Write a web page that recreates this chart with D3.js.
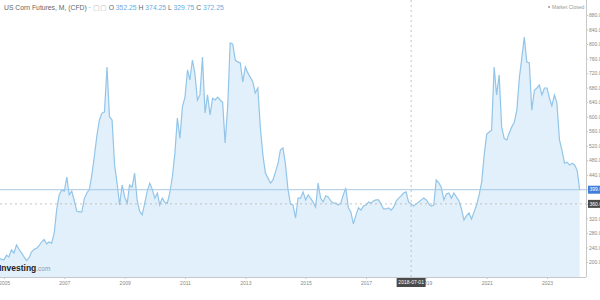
<!DOCTYPE html>
<meta charset="utf-8">
<script src="https://d3js.org/d3.v7.min.js"></script>
<style>
  body { margin: 0; background: #fff; }
  text { font-family: "Liberation Sans", Arial, sans-serif; }
</style>
<div id="chart"></div>
<script>

// monthly closes, first value is Oct 2004
var startMonth = new Date(2004, 9, 1);
var closes = [
  210, 212, 207,                                          // 2004
  206, 219, 214, 233, 225, 247, 235, 225, 214, 204, 212, 228, // 2005
  235, 238, 245, 255, 262, 250, 255, 252, 280, 345, 385, 398, // 2006
  395, 434, 385, 395, 370, 340, 338, 338, 375, 390, 400, 440, // 2007
  494, 550, 591, 610, 613, 737, 600, 591, 467, 417, 357, 412, // 2008
  379, 362, 412, 406, 445, 371, 340, 330, 362, 395, 417, 400, // 2009
  376, 390, 357, 376, 365, 362, 390, 434, 500, 596, 541, 627, // 2010
  654, 729, 701, 756, 720, 646, 660, 764, 610, 660, 605, 651, // 2011
  646, 654, 646, 640, 528, 627, 803, 800, 756, 751, 748, 696, // 2012
  737, 720, 709, 696, 665, 679, 572, 495, 445, 431, 417, 426, // 2013
  448, 472, 508, 514, 470, 400, 360, 357, 321, 376, 376, 393, // 2014
  371, 385, 376, 365, 351, 417, 376, 365, 382, 379, 368, 362, // 2015
  362, 357, 362, 385, 404, 349, 338, 305, 329, 349, 343, 354, // 2016
  357, 365, 362, 368, 371, 371, 360, 346, 346, 349, 343, 351, // 2017
  368, 376, 382, 390, 393, 365, 360, 354, 360, 365, 371, 376, // 2018
  371, 360, 354, 357, 426, 418, 406, 371, 387, 390, 376, 390, // 2019
  379, 368, 346, 316, 327, 335, 318, 338, 357, 384, 420, 494, // 2020
  552, 558, 563, 737, 660, 715, 572, 540, 536, 555, 572, 585, // 2021
  618, 709, 760, 819, 751, 748, 618, 673, 679, 687, 660, 679, // 2022
  679, 650, 630, 660, 638, 536, 508, 472, 475, 467, 472, 467, // 2023
  453, 398                                                // 2024
];

var yTicks = [200, 240, 280, 320, 360, 400, 440, 480, 520, 560, 600, 640, 680, 720, 760, 800, 840, 880];
var xTickYears = [2005, 2007, 2009, 2011, 2013, 2015, 2017, 2019, 2021, 2023];

var title = "US Corn Futures, M, (CFD)";
var ohlcNames = ["O", "H", "L", "C"];
var ohlcValues = ["352.25", "374.25", "329.75", "372.25"];

var lastPrice = 399.0;
var crossDate = new Date(2018, 6, 1);
var crossValue = 360.0;

var data = closes.map(function(v, i) {
  return { date: d3.timeMonth.offset(startMonth, i), value: v };
});

var width = 600, height = 300,
    plotRight = 586, plotBottom = 277;

var svg = d3.select("#chart")
  .append("svg")
    .attr("width", width)
    .attr("height", height);

var x = d3.scaleTime()
  .domain([new Date(2005, 0, 1), new Date(2023, 0, 1)])
  .range([4, 547]);

var y = d3.scaleLinear()
  .domain([200, 880])
  .range([262, 15]);

svg.append("clipPath").attr("id", "plotclip")
  .append("rect").attr("x", 0).attr("y", 0).attr("width", plotRight).attr("height", plotBottom);

var plot = svg.append("g").attr("clip-path", "url(#plotclip)");

// area + line
plot.append("path")
  .datum(data)
  .attr("fill", "#e1f0fa")
  .attr("d", d3.area()
    .x(function(d) { return x(d.date); })
    .y0(plotBottom)
    .y1(function(d) { return y(d.value); }));

plot.append("path")
  .datum(data)
  .attr("fill", "none")
  .attr("stroke", "#93c5e8")
  .attr("stroke-width", 1.2)
  .attr("d", d3.line()
    .x(function(d) { return x(d.date); })
    .y(function(d) { return y(d.value); }));

// last price line
plot.append("line")
  .attr("x1", 0).attr("x2", plotRight)
  .attr("y1", y(lastPrice)).attr("y2", y(lastPrice))
  .attr("stroke", "#a8c8e6").attr("stroke-width", 1);

// crosshair
plot.append("line")
  .attr("x1", 0).attr("x2", plotRight)
  .attr("y1", y(crossValue)).attr("y2", y(crossValue))
  .attr("stroke", "#b5b5b5").attr("stroke-width", 0.8)
  .attr("stroke-dasharray", "2,3");
plot.append("line")
  .attr("x1", x(crossDate)).attr("x2", x(crossDate))
  .attr("y1", 0).attr("y2", plotBottom)
  .attr("stroke", "#b5b5b5").attr("stroke-width", 0.8)
  .attr("stroke-dasharray", "2,3");

// x axis
var xAxis = svg.append("g")
  .attr("transform", "translate(0," + plotBottom + ")")
  .call(d3.axisBottom(x)
    .tickValues(xTickYears.map(function(yr) { return new Date(yr, 0, 1); }))
    .tickFormat(d3.timeFormat("%Y"))
    .tickSize(2)
    .tickPadding(2));
xAxis.select(".domain").attr("stroke", "#c8c8c8").attr("d", "M0,0.5H" + plotRight);
xAxis.selectAll(".tick line").attr("stroke", "#c8c8c8");
xAxis.selectAll("text").attr("fill", "#888").style("font-size", "5px");

// y axis on the right
var yAxis = svg.append("g")
  .attr("transform", "translate(" + plotRight + ",0)")
  .call(d3.axisRight(y)
    .tickValues(yTicks)
    .tickFormat(d3.format(".1f"))
    .tickSize(2)
    .tickPadding(1));
yAxis.select(".domain").attr("stroke", "#c8c8c8").attr("d", "M0.5,0V" + plotBottom);
yAxis.selectAll(".tick line").attr("stroke", "#c8c8c8");
yAxis.selectAll("text").attr("fill", "#888").style("font-size", "5px");

// price labels on the axis
function axisTag(val, fill) {
  var g = svg.append("g").attr("transform", "translate(" + (plotRight + 2) + "," + y(val) + ")");
  g.append("rect").attr("x", 0).attr("y", -4).attr("width", 16).attr("height", 8).attr("fill", fill);
  g.append("text").attr("x", 1.5).attr("y", 0).attr("dy", "0.35em")
    .attr("fill", "#fff").style("font-size", "5px").text(d3.format(".1f")(val));
}
axisTag(lastPrice, "#3f7fdc");
axisTag(crossValue, "#4a4a4a");

// date label under crosshair
var dl = svg.append("g").attr("transform", "translate(" + x(crossDate) + "," + (plotBottom + 1) + ")");
dl.append("rect").attr("x", -14.5).attr("y", 0).attr("width", 29).attr("height", 9).attr("fill", "#4a4a4a");
dl.append("text").attr("text-anchor", "middle").attr("y", 4.5).attr("dy", "0.35em")
  .attr("fill", "#fff").style("font-size", "5px").text(d3.timeFormat("%Y-%m-%d")(crossDate));

// header
var hdr = svg.append("text").attr("x", 4).attr("y", 10).style("font-size", "6.8px");
hdr.append("tspan").attr("fill", "#666").text(title + " · ");
hdr.append("tspan").attr("fill", "#bbb").text("▢▢ ");
ohlcNames.forEach(function(n, i) {
  hdr.append("tspan").attr("fill", "#666").text(n + " ");
  hdr.append("tspan").attr("fill", "#6aaae4").text(ohlcValues[i] + "  ");
});

// market status
svg.append("circle").attr("cx", 549).attr("cy", 7).attr("r", 1).attr("fill", "#999");
svg.append("text").attr("x", 552).attr("y", 7).attr("dy", "0.35em")
  .attr("fill", "#999").style("font-size", "5px").text("Market Closed");

// watermark
var wm = svg.append("text").attr("x", -1).attr("y", 271).style("font-size", "8.5px");
wm.append("tspan").attr("fill", "#222").style("font-weight", "bold").text("Investing");
wm.append("tspan").attr("fill", "#999").style("font-size", "6.5px").text(".com");

</script>
